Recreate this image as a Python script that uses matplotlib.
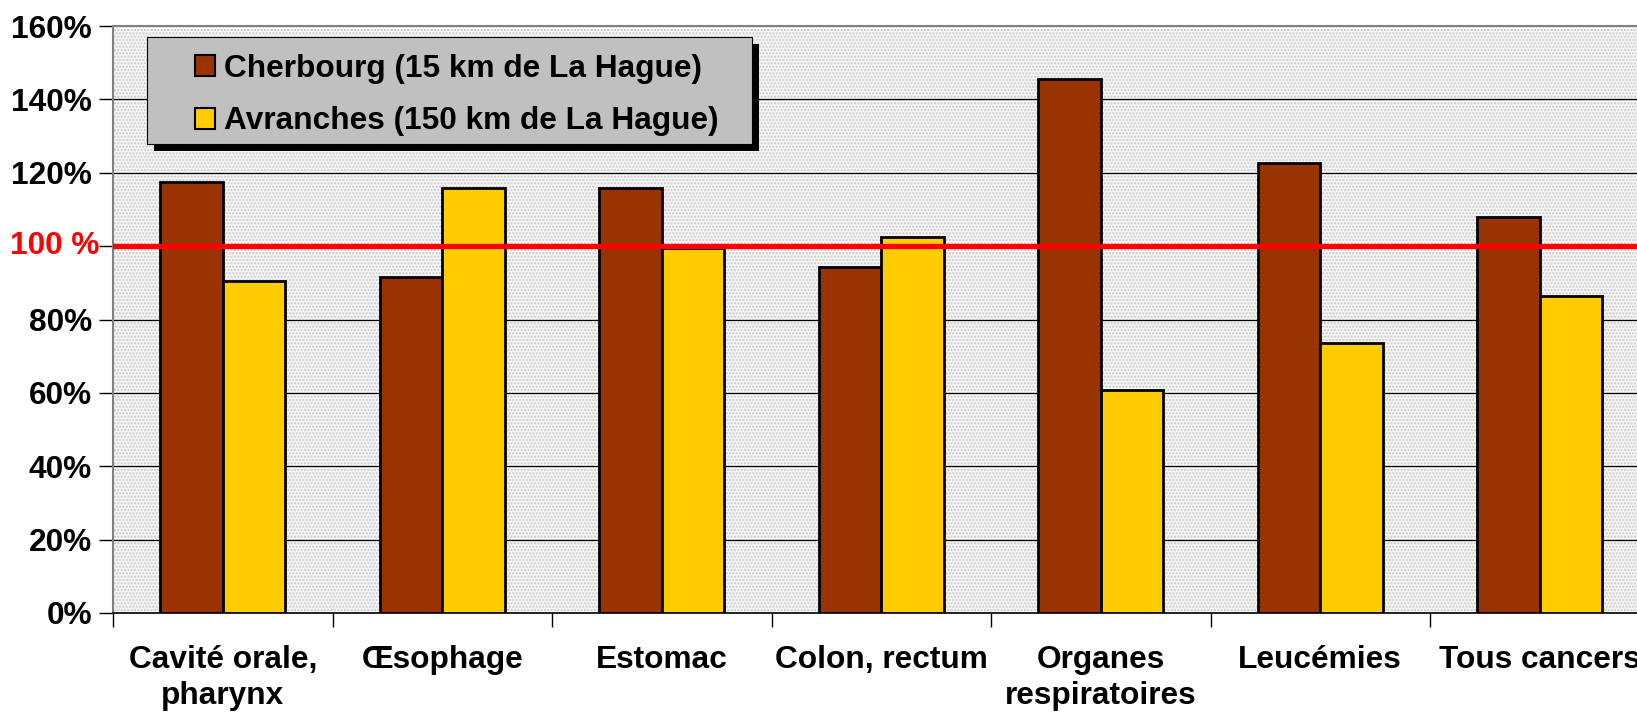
import numpy as np
import matplotlib
matplotlib.use("Agg")
import matplotlib.pyplot as plt
from matplotlib.patches import Rectangle
import matplotlib.patheffects as pe

plt.rcParams['font.family'] = ['Liberation Sans', 'DejaVu Sans']
plt.rcParams['font.weight'] = 'bold'
plt.rcParams['hatch.linewidth'] = 1.0

# Données (en % de la référence)
categories = ["Cavité orale,\npharynx", "Œsophage", "Estomac", "Colon, rectum",
              "Organes\nrespiratoires", "Leucémies", "Tous cancers"]
cherbourg = [117.6, 91.7, 115.9, 94.2, 145.5, 122.7, 107.9]
avranches = [90.5, 115.9, 99.6, 102.5, 60.9, 73.5, 86.3]
series_labels = ["Cherbourg (15 km de La Hague)", "Avranches (150 km de La Hague)"]
y_ticks = [0, 20, 40, 60, 80, 100, 120, 140, 160]

col_cher = '#993300'
col_avr = '#FFCC00'
fs = 22.8

fig = plt.figure(figsize=(16.37, 7.12), dpi=100)
ax = fig.add_axes([113 / 1637, 1 - 613 / 712, 1536.5 / 1637, 587 / 712])

# fond pointillé de la zone de tracé
ax.set_facecolor('#f5f5f5')
ax.add_patch(Rectangle((0, 0), 1, 1, transform=ax.transAxes, facecolor='none',
                       edgecolor='#c8c8c8', hatch='.....', lw=0, zorder=0))

x = np.arange(len(categories))
w = 0.285
ax.bar(x - w / 2, cherbourg, w, color=col_cher, edgecolor='black', lw=2, zorder=3,
       label=series_labels[0])
ax.bar(x + w / 2, avranches, w, color=col_avr, edgecolor='black', lw=2, zorder=3,
       label=series_labels[1])

# lignes de grille (sauf 100, remplacée par la ligne rouge)
for v in [20, 40, 60, 80, 120, 140]:
    ax.axhline(v, color='black', lw=0.9, zorder=1)
ax.axhline(100, color='#ff0000', lw=3.8, zorder=4)

ax.set_xlim(-0.5, len(categories) - 0.5)
ax.set_ylim(0, 160)

ax.set_yticks(y_ticks)
ax.set_yticklabels([f"{v}%" if v != 100 else "" for v in y_ticks], fontsize=fs,
                   fontweight='bold')
ax.tick_params(axis='y', length=10, width=1, pad=5, color='black')
ax.annotate("100 %", xy=(0, 100), xycoords=('axes fraction', 'data'),
            xytext=(-13, 0), textcoords='offset pixels', ha='right', va='center',
            color='#ff0000', fontsize=fs, fontweight='bold')

ax.set_xticks(np.arange(-0.5, len(categories), 1.0))
ax.set_xticklabels([])
ax.tick_params(axis='x', which='major', length=10, width=1, color='black')
ax.set_xticks(x, minor=True)
ax.set_xticklabels(categories, minor=True, fontsize=fs, fontweight='bold',
                   linespacing=1.28, va='top')
ax.tick_params(axis='x', which='minor', length=0, pad=23)

for side in ['top', 'right', 'left']:
    ax.spines[side].set_color('#808080')
    ax.spines[side].set_linewidth(1.5)
ax.spines['bottom'].set_color('black')
ax.spines['bottom'].set_linewidth(1.2)

# cadre de la légende avec ombre
box = Rectangle((0.0221, 0.799), 0.3938, 0.1823, transform=ax.transAxes,
                facecolor='#c0c0c0', edgecolor='black', lw=0.8, zorder=5)
box.set_path_effects([pe.SimplePatchShadow(offset=(5, -5), shadow_rgbFace='black',
                                           alpha=1), pe.Normal()])
ax.add_patch(box)
leg = ax.legend(loc='upper left', bbox_to_anchor=(0.0534, 0.953), frameon=False,
                prop={'weight': 'bold', 'size': fs}, borderpad=0,
                handlelength=0.64, handleheight=0.64, handletextpad=0.28,
                labelspacing=0.72, borderaxespad=0)
leg.set_zorder(6)
for h in leg.legend_handles:
    h.set_linewidth(1.5)

fig.savefig("out.png", dpi=100)
